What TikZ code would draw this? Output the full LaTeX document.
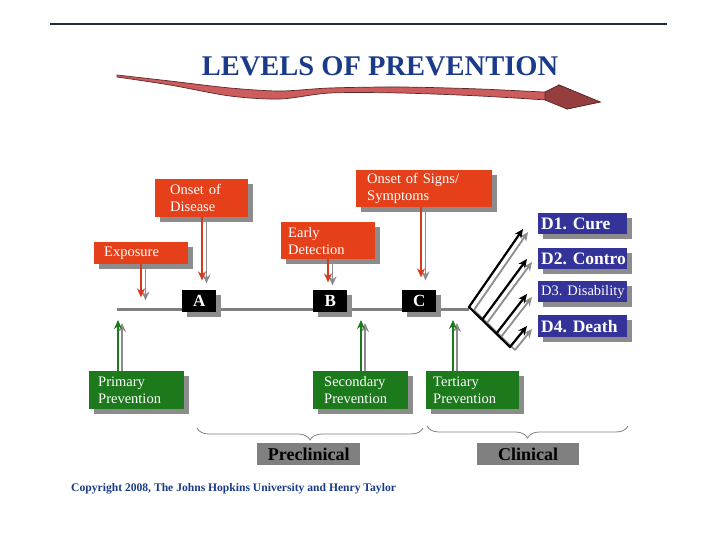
\documentclass[tikz,border=0pt]{standalone}
\usepackage{fontspec}
\setmainfont{Liberation Serif}
\frenchspacing
\usetikzlibrary{shadows,arrows.meta,decorations.pathreplacing,calc}
\definecolor{boxred}{RGB}{230,64,26}
\definecolor{arrred}{RGB}{214,58,30}
\definecolor{shadowgray}{RGB}{140,140,140}
\definecolor{boxgreen}{RGB}{28,122,28}
\definecolor{boxblue}{RGB}{51,51,153}
\definecolor{titleblue}{RGB}{26,58,138}
\definecolor{linegray}{RGB}{128,128,128}
\definecolor{swfill}{RGB}{205,92,92}
\definecolor{swhead}{RGB}{150,62,62}
\definecolor{swline}{RGB}{90,40,40}
\begin{document}
\begin{tikzpicture}[x=1pt,y=-1pt,
  shadowed/.style={general shadow={fill=shadowgray, shadow xshift=5pt, shadow yshift=-5pt}},
  boxbase/.style={shadowed, anchor=north west, inner ysep=0pt, align=left},
  redbox/.style={boxbase, fill=boxred, text=white, font=\fontsize{14.5}{17}\selectfont},
  greenbox/.style={boxbase, fill=boxgreen, text=white, font=\fontsize{14.5}{17}\selectfont},
  bluebox/.style={boxbase, fill=boxblue, text=white, inner xsep=3pt, text width=83pt, minimum height=21pt, font=\bfseries\fontsize{17.5}{20}\selectfont},
  letterbox/.style={shadowed, anchor=north west, fill=black, text=white, inner sep=0pt, minimum width=34pt, minimum height=22pt, font=\bfseries\fontsize{17}{18}\selectfont},
  graybox/.style={anchor=north west, fill=linegray, text=black, inner sep=0pt, minimum height=22pt, font=\bfseries\fontsize{18}{20}\selectfont},
  redarrow/.style={draw=arrred, line width=2.6pt, -{Stealth[length=9pt,width=8pt]}},
  greenarrow/.style={draw=boxgreen, line width=2.6pt, -{Stealth[length=9pt,width=8pt]}},
  shadearrow/.style={draw=shadowgray, line width=1.8pt, -{Stealth[length=9pt,width=8pt]}},
  blackarrow/.style={draw=black, line width=2.2pt, -{Stealth[length=9pt,width=8pt]}},
  bracestyle/.style={draw=linegray, line width=0.8pt, decorate, decoration={brace, mirror, amplitude=12pt}}
]
\useasboundingbox (0,0) rectangle (720,540);

% top rule
\draw[line width=1.2pt, draw={rgb,255:red,30;green,45;blue,60}] (50,24) -- (667,24);

% title
\node[font=\bfseries\fontsize{28.5}{30}\selectfont, text=titleblue] (title) at (380,66) {LEVELS OF PREVENTION};

% swoosh arrow: body
\path[fill=swfill, draw=swline, line width=0.7pt]
  plot[smooth] coordinates {(117,75) (170,81) (230,88) (280,91) (330,88) (400,87) (480,89) (562,93)}
  -- (559,85) -- (600,102) -- (567,109)
  -- plot[smooth] coordinates {(562,101) (480,96) (400,93) (330,93) (280,99) (230,96) (170,85) (117,77)}
  -- cycle;
% darker arrow head
\path[fill=swhead, draw=swline, line width=0.7pt] (545,92) -- (559,85) -- (600,102) -- (567,109) -- (545,100) -- cycle;

% timeline
\draw[draw=linegray, line width=3pt] (117,309) -- (469,309);

% red boxes
\node[redbox, text width=74pt, inner xsep=10pt, minimum height=22pt] (expo) at (94,242) {Exposure};
\node[redbox, text width=63pt, inner xsep=15pt, minimum height=38pt] (onset) at (155,179) {Onset of\\Disease};
\node[redbox, text width=80pt, inner xsep=7pt, minimum height=37pt] (early) at (281,222) {Early\\Detection};
\node[redbox, text width=114pt, inner xsep=11pt, minimum height=37pt] (signs) at (356,170) {Onset of Signs/\\Symptoms};

% black letter boxes
\node[letterbox] (A) at (182,290) {A};
\node[letterbox] (B) at (313,290) {B};
\node[letterbox] (C) at (402,290) {C};

% red arrows with shadows
\draw[shadearrow] ($(expo.south west)+(51.5,5)$) -- ++(0,31);
\draw[redarrow] ($(expo.south west)+(47,0)$) -- ++(0,33);
\draw[shadearrow] ($(onset.south west)+(51.5,5)$) -- ++(0,61);
\draw[redarrow] ($(onset.south west)+(47,0)$) -- ++(0,63);
\draw[shadearrow] ($(early.south west)+(51.5,5)$) -- ++(0,21);
\draw[redarrow] ($(early.south west)+(47,0)$) -- ++(0,23);
\draw[shadearrow] ($(signs.south west)+(69.5,5)$) -- ++(0,68);
\draw[redarrow] ($(signs.south west)+(65,0)$) -- ++(0,70);

% green boxes
\node[greenbox, text width=77pt, inner xsep=9pt, minimum height=38pt] (prim) at (89,371) {Primary\\Prevention};
\node[greenbox, text width=73pt, inner xsep=11pt, minimum height=38pt] (sec) at (313,371) {Secondary\\Prevention};
\node[greenbox, text width=79pt, inner xsep=7pt, minimum height=38pt] (tert) at (426,371) {Tertiary\\Prevention};

% green arrows with shadows
\draw[shadearrow] ($(prim.north west)+(33,0)$) -- ++(0,-48);
\draw[greenarrow] ($(prim.north west)+(29,0)$) -- ++(0,-51);
\draw[shadearrow] ($(sec.north west)+(52,0)$) -- ++(0,-48);
\draw[greenarrow] ($(sec.north west)+(48,0)$) -- ++(0,-51);
\draw[shadearrow] ($(tert.north west)+(31,0)$) -- ++(0,-48);
\draw[greenarrow] ($(tert.north west)+(27,0)$) -- ++(0,-51);

% outcome boxes
\node[bluebox] (d1) at (538,213) {\mbox{D1. Cure}};
\node[bluebox] (d2) at (538,248) {\mbox{D2. Contro}};
\node[bluebox, font=\fontsize{14.5}{17}\selectfont] (d3) at (538,281) {\mbox{D3. Disability}};
\node[bluebox, minimum height=22pt] (d4) at (538,315) {\mbox{D4. Death}};

% branching arrows
\coordinate (s1) at (469,307);
\coordinate (s2) at (482,320);
\coordinate (s3) at (496,334);
\coordinate (s4) at (510,347);
\coordinate (t1) at (523,229);
\coordinate (t2) at (527,259);
\coordinate (t3) at (527,294);
\coordinate (t4) at (527,326);
\draw[draw=shadowgray, line width=1.6pt] ($(s1)+(5,3)$) -- ($(s4)+(5,3)$);
\draw[shadearrow] ($(s1)+(5,3)$) -- ($(t1)+(5,3)$);
\draw[shadearrow] ($(s2)+(5,3)$) -- ($(t2)+(5,3)$);
\draw[shadearrow] ($(s3)+(5,3)$) -- ($(t3)+(5,3)$);
\draw[shadearrow] ($(s4)+(5,3)$) -- ($(t4)+(5,3)$);
\draw[draw=black, line width=2.2pt, line join=round, line cap=round] (s1) -- (s4);
\draw[blackarrow] (s1) -- (t1);
\draw[blackarrow] (s2) -- (t2);
\draw[blackarrow] (s3) -- (t3);
\draw[blackarrow] (s4) -- (t4);

% braces
\coordinate (b1a) at (197,428);
\coordinate (b1b) at (423,428);
\coordinate (b2a) at (427,426);
\coordinate (b2b) at (628,426);
\draw[bracestyle] (b1a) -- (b1b);
\draw[bracestyle] (b2a) -- (b2b);

% gray labels
\node[graybox, minimum width=103pt] (pre) at (257,443) {Preclinical};
\node[graybox, minimum width=102pt] (clin) at (477,443) {Clinical};

% copyright
\node[anchor=west, inner sep=0pt, text=titleblue, font=\bfseries\fontsize{11.6}{13}\selectfont] (copy) at (71,489) {Copyright 2008, The Johns Hopkins University and Henry Taylor};
\end{tikzpicture}
\end{document}
